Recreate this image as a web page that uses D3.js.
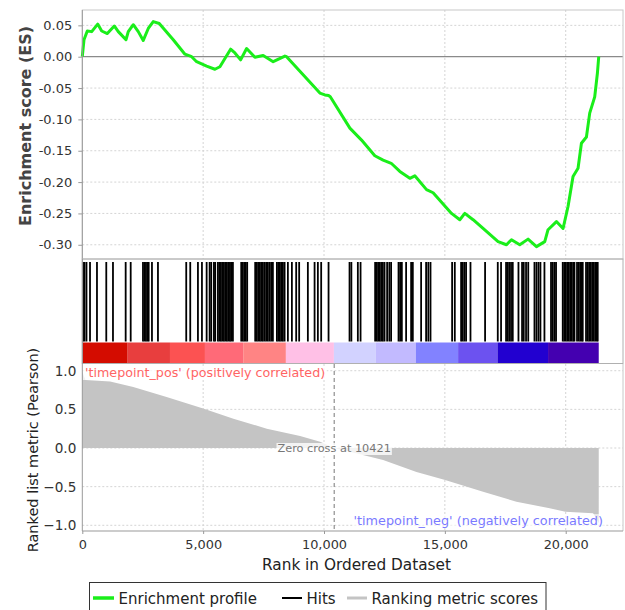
<!DOCTYPE html>
<html><head><meta charset="utf-8">
<script src="https://cdn.jsdelivr.net/npm/d3@7"></script>
<style>
body{margin:0;background:#fff;}
svg{display:block;font-family:"DejaVu Sans",Verdana,sans-serif;}
</style>
</head><body>
<svg id="c" width="625" height="610"></svg>
<script>
// ---------------- data ----------------
const N = 21366;
const xMax = 22370;
const zeroCross = 10421;
const xTicks = [0, 5000, 10000, 15000, 20000];
const esTicks = [0.05, 0.00, -0.05, -0.10, -0.15, -0.20, -0.25, -0.30];
const metricTicks = [1.0, 0.5, 0.0, -0.5, -1.0];

const esRank = [0,70,207,389,637,802,1034,1323,1489,1588,1807,1902,2109,2316,2522,2729,2936,3184,3763,4247,4524,4730,5144,5487,5694,5901,6136,6314,6550,6798,7141,7484,7898,8382,8452,9829,10036,10188,10260,11070,11553,12103,12446,12780,13137,13551,13757,14241,14514,15275,15618,15825,16168,16581,17202,17549,17756,18099,18442,18790,19133,19269,19616,19890,20096,20303,20510,20650,20857,20993,21200,21312,21366];
const esValue = [0,0.027,0.041,0.040,0.052,0.041,0.037,0.049,0.040,0.036,0.027,0.040,0.051,0.040,0.026,0.045,0.056,0.053,0.027,0.004,0.000,-0.008,-0.015,-0.020,-0.016,-0.003,0.012,0.006,-0.005,0.013,-0.001,0.002,-0.008,0.001,0.000,-0.058,-0.061,-0.062,-0.064,-0.114,-0.133,-0.158,-0.165,-0.170,-0.183,-0.194,-0.190,-0.212,-0.217,-0.250,-0.260,-0.250,-0.260,-0.274,-0.295,-0.300,-0.292,-0.300,-0.291,-0.303,-0.295,-0.276,-0.263,-0.274,-0.239,-0.191,-0.178,-0.138,-0.128,-0.090,-0.064,-0.026,0.0];

const hits = [29,91,173,319,607,992,1269,1794,2002,2510,2572,2634,2696,2746,2882,3130,4300,4466,4784,4950,5144,5268,5334,5446,5499,5611,5674,5735,5797,5859,5921,5983,6045,6108,6161,6231,6575,6637,6699,6760,6822,7153,7215,7277,7348,7410,7472,7542,7608,7678,7749,7815,7885,8050,8112,8175,8237,8299,8369,8505,8671,8849,8972,9332,9610,9746,9883,10188,11056,11132,11400,11512,12115,12185,12247,12309,12372,12434,12504,12611,12702,12777,13083,13149,13220,13397,13604,13674,14018,14224,14315,14406,15300,15411,15672,15734,15804,15878,16060,16664,17189,17325,17532,17602,17668,17738,17809,18045,18194,18264,18359,18450,18707,18789,18872,18954,19120,19392,19462,19534,19600,19877,19939,20001,20063,20124,20186,20248,20311,20361,20468,20538,20600,20662,20704,20840,20910,20972,21034,21096,21159,21221,21282,21324];

const metricRank = [0,40,130,1150,2109,3487,5000,6252,7632,9011,9838,10421,11070,12446,13826,14976,16581,17961,19338,19987,21131,21270,21366];
const metricValue = [1.0,0.95,0.88,0.86,0.79,0.66,0.51,0.38,0.25,0.155,0.08,0.0,-0.05,-0.155,-0.31,-0.41,-0.565,-0.695,-0.78,-0.825,-0.845,-0.91,-0.975];

const barEdges = [0,1877,3627,5074,6657,8423,10409,12146,13800,15548,17177,19269,21366];
const barColors = ["#d40c00","#e83e3e","#fc5252","#ff6a78","#ff8484","#ffc0e6","#d2d2ff","#c2baff","#8282ff","#6c52f0","#2200d0","#4400b0"];

const esLabel = "Enrichment score (ES)";
const metricLabel = "Ranked list metric (Pearson)";
const xLabel = "Rank in Ordered Dataset";
const posLabel = "'timepoint_pos' (positively correlated)";
const negLabel = "'timepoint_neg' (negatively correlated)";
const zeroLabel = "Zero cross at " + zeroCross;
const legendLabels = ["Enrichment profile", "Hits", "Ranking metric scores"];
const legendColors = ["#1aee1a", "#000000", "#c4c4c4"];

// ---------------- layout ----------------
const L = 82.3, R = 623;
const topY0 = 10, topY1 = 259;
const hitY0 = 262, hitY1 = 341.5;
const barY0 = 342.5, barY1 = 363.5;
const botY0 = 364, botY1 = 531;

const svg = d3.select("#c");
const x = d3.scaleLinear().domain([0, xMax]).range([L, R]);
const yES = d3.scaleLinear().domain([-0.3227, 0.0745]).range([topY1, topY0]);
const yM = d3.scaleLinear().domain([-1.074, 1.087]).range([botY1, botY0]);

const gridCol = "#d4d4d4", borderCol = "#c8c8c8";

// ---------- top panel ----------
const topG = svg.append("g");
topG.append("g").selectAll("line").data(esTicks.filter(d => d !== 0)).join("line")
  .attr("x1", L).attr("x2", R).attr("y1", d => yES(d)).attr("y2", d => yES(d))
  .attr("stroke", gridCol).attr("stroke-dasharray", "2,2");
topG.append("g").selectAll("line").data(xTicks.filter(d => d !== 0)).join("line")
  .attr("x1", d => x(d)).attr("x2", d => x(d)).attr("y1", topY0).attr("y2", topY1)
  .attr("stroke", gridCol).attr("stroke-dasharray", "2,2");
topG.append("line").attr("x1", L).attr("x2", R).attr("y1", yES(0)).attr("y2", yES(0))
  .attr("stroke", "#8a8a8a").attr("stroke-width", 1.2);
topG.append("rect").attr("x", L).attr("y", topY0).attr("width", R - L).attr("height", topY1 - topY0)
  .attr("fill", "none").attr("stroke", borderCol);

const esData = esRank.map((r, i) => [r, esValue[i]]);
topG.append("path").datum(esData)
  .attr("d", d3.line().x(d => x(d[0])).y(d => yES(d[1])))
  .attr("fill", "none").attr("stroke", legendColors[0]).attr("stroke-width", 3)
  .attr("stroke-linejoin", "round");

const axT = topG.append("g").attr("transform", `translate(${L},0)`)
  .call(d3.axisLeft(yES).tickValues(esTicks).tickFormat(d => d.toFixed(2)).tickSize(4).tickPadding(6));
axT.select(".domain").attr("stroke", "#999").attr("d", `M0,${topY0}V${topY1}`);
axT.selectAll(".tick line").attr("stroke", "#999");
axT.selectAll("text").attr("font-size", 13).attr("fill", "#333").attr("font-family", "DejaVu Sans");

svg.append("text").attr("transform", `translate(31,${(topY0 + 232) / 2 + 5}) rotate(-90)`)
  .attr("text-anchor", "middle").attr("font-weight", "bold").attr("font-size", 16)
  .attr("fill", "#444").text(esLabel);

// ---------- hits panel ----------
svg.append("g").selectAll("line").data(hits).join("line")
  .attr("x1", d => x(d)).attr("x2", d => x(d)).attr("y1", hitY0).attr("y2", hitY1)
  .attr("stroke", "#000").attr("stroke-width", 1.8);

svg.append("g").selectAll("rect").data(barColors).join("rect")
  .attr("x", (d, i) => x(barEdges[i])).attr("width", (d, i) => x(barEdges[i + 1]) - x(barEdges[i]))
  .attr("y", barY0).attr("height", barY1 - barY0).attr("fill", d => d);

svg.append("rect").attr("x", L).attr("y", topY1).attr("width", R - L).attr("height", barY1 - topY1)
  .attr("fill", "none").attr("stroke", "#b0b0b0");

// ---------- bottom panel ----------
const botG = svg.append("g");
botG.append("g").selectAll("line").data(metricTicks).join("line")
  .attr("x1", L).attr("x2", R).attr("y1", d => yM(d)).attr("y2", d => yM(d))
  .attr("stroke", gridCol).attr("stroke-dasharray", "2,2");
botG.append("g").selectAll("line").data(xTicks.filter(d => d !== 0)).join("line")
  .attr("x1", d => x(d)).attr("x2", d => x(d)).attr("y1", botY0).attr("y2", botY1)
  .attr("stroke", gridCol).attr("stroke-dasharray", "2,2");

const mData = metricRank.map((r, i) => [r, metricValue[i]]);
botG.append("path").datum(mData)
  .attr("d", d3.area().x(d => x(d[0])).y0(yM(0)).y1(d => yM(d[1])))
  .attr("fill", legendColors[2]).attr("stroke", "none");

botG.append("line").attr("x1", x(zeroCross)).attr("x2", x(zeroCross)).attr("y1", botY0).attr("y2", botY1)
  .attr("stroke", "#777").attr("stroke-dasharray", "4,3");

botG.append("line").attr("x1", R).attr("x2", R).attr("y1", botY0).attr("y2", botY1).attr("stroke", borderCol);

// annotations
function boxedText(g, tx, ty, anchor, str, size, color, pad, op) {
  const grp = g.append("g");
  const bg = grp.append("rect");
  const t = grp.append("text").attr("x", tx).attr("y", ty).attr("text-anchor", anchor)
    .attr("font-size", size).attr("fill", color).text(str);
  const bb = t.node().getBBox();
  bg.attr("x", bb.x - pad).attr("y", bb.y + 1).attr("width", bb.width + 2 * pad).attr("height", bb.height - 1)
    .attr("fill", "#fff").attr("opacity", op);
}
boxedText(botG, 85, 377, "start", posLabel, 12.7, "#ff6464", 2, 0.75);
boxedText(botG, x(zeroCross), 452, "middle", zeroLabel, 11.3, "#777", 1, 0.8);
boxedText(botG, 353.5, 525, "start", negLabel, 12.8, "#7a7aff", 1, 0.6);

const axB = botG.append("g").attr("transform", `translate(${L},0)`)
  .call(d3.axisLeft(yM).tickValues(metricTicks).tickFormat(d3.format(".1f")).tickSize(0).tickPadding(6));
axB.select(".domain").attr("stroke", "#999").attr("d", `M0,${botY0}V${botY1}`);
axB.selectAll("text").attr("font-size", 13.6).attr("fill", "#333").attr("font-family", "DejaVu Sans");

// left axis line through hits panel
svg.append("line").attr("x1", L).attr("x2", L).attr("y1", topY1).attr("y2", botY0).attr("stroke", "#999");

const axX = botG.append("g").attr("transform", `translate(0,${botY1})`)
  .call(d3.axisBottom(x).tickValues(xTicks).tickFormat(d3.format(",")).tickSize(3).tickPadding(6));
axX.select(".domain").attr("stroke", "#999").attr("d", `M${L},0H${R}`);
axX.selectAll(".tick line").attr("stroke", "#999");
axX.selectAll("text").attr("font-size", 12.9).attr("fill", "#333").attr("font-family", "DejaVu Sans");

svg.append("text").attr("x", (262 + 451) / 2).attr("y", 570).attr("text-anchor", "middle")
  .attr("font-size", 15.3).attr("fill", "#222").text(xLabel);

svg.append("text").attr("transform", `translate(38,${450}) rotate(-90)`)
  .attr("text-anchor", "middle").attr("font-size", 14.5).attr("fill", "#222").text(metricLabel);

// ---------- legend ----------
const lg = svg.append("g");
lg.append("rect").attr("x", 89.5).attr("y", 582.5).attr("width", 456.5).attr("height", 40)
  .attr("fill", "#fff").attr("stroke", "#333");
const legX = [93, 282, 347];
const legW = [21, 20, 20];
const legSW = [3.5, 2, 3];
legendLabels.forEach((lab, i) => {
  lg.append("line").attr("x1", legX[i]).attr("x2", legX[i] + legW[i]).attr("y1", 598).attr("y2", 598)
    .attr("stroke", legendColors[i]).attr("stroke-width", legSW[i]);
  lg.append("text").attr("x", legX[i] + legW[i] + 4.5).attr("y", 603.5).attr("font-size", 15)
    .attr("fill", "#222").text(lab);
});
</script>
</body></html>
